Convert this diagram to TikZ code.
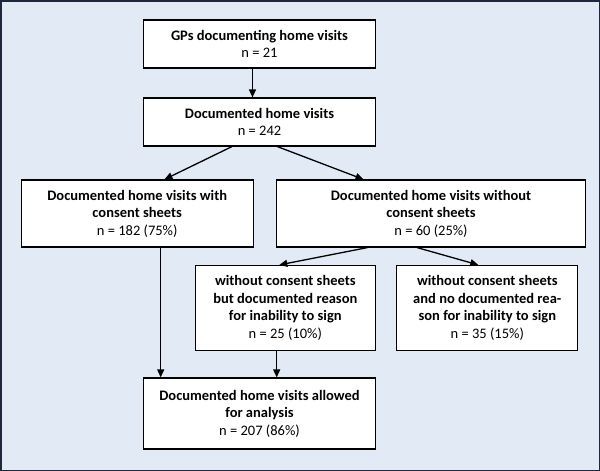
\documentclass[tikz,border=0pt]{standalone}
\usepackage{fontspec}
\setmainfont{Carlito}
\usetikzlibrary{arrows.meta}
\definecolor{bgblue}{RGB}{226,234,246}
\definecolor{frame}{RGB}{30,40,60}
\tikzset{
  box/.style={draw=black, line width=1.2pt, fill=white, align=center, inner sep=0pt,
    font=\fontsize{14.5}{17.5}\selectfont},
  arr/.style={line width=1.3pt, -{Triangle[length=8pt,width=7pt]}}
}
\begin{document}
\begin{tikzpicture}[x=1pt,y=-1pt]
\useasboundingbox (0,0) rectangle (600,471);
\draw[fill=bgblue, draw=frame, line width=1.5pt] (0.75,0.75) rectangle (599.25,470.25);
\node[box, minimum width=232pt, minimum height=48pt] (gp) at (259.5,44)
  {\textbf{GPs documenting home visits}\\n = 21};
\node[box, minimum width=232pt, minimum height=48pt] (dv) at (259.5,122)
  {\textbf{Documented home visits}\\n = 242};
\node[box, minimum width=232pt, minimum height=67pt] (lb) at (137.2,213.5)
  {\textbf{Documented home visits with}\\\textbf{consent sheets}\\n = 182 (75\%)};
\node[box, minimum width=309pt, minimum height=67pt] (rb) at (431,213.5)
  {\textbf{Documented home visits without}\\\textbf{consent sheets}\\n = 60 (25\%)};
\node[box, minimum width=180pt, minimum height=85pt] (mb) at (285.3,308)
  {\textbf{without consent sheets}\\\textbf{but documented reason}\\\textbf{for inability to sign}\\n = 25 (10\%)};
\node[box, minimum width=181pt, minimum height=85pt] (nb) at (487.3,308)
  {\textbf{without consent sheets}\\\textbf{and no documented rea-}\\\textbf{son for inability to sign}\\n = 35 (15\%)};
\node[box, minimum width=232pt, minimum height=71pt] (bb) at (259.5,413.5)
  {\textbf{Documented home visits allowed}\\\textbf{for analysis}\\n = 207 (86\%)};
\draw[arr] ([xshift=-7pt]gp.south) -- ([xshift=-7pt]gp.south |- dv.north);
\draw[arr] ([xshift=-27.6pt]dv.south) -- ([xshift=27.3pt]lb.north);
\draw[arr] ([xshift=17.9pt]dv.south) -- ([xshift=-67.5pt]rb.north);
\draw[arr] ([xshift=-63.6pt]rb.south) -- ([xshift=-6pt]mb.north);
\draw[arr] ([xshift=-13.9pt]rb.south) -- ([xshift=-9pt]nb.north);
\draw[arr] ([xshift=23.5pt]lb.south) -- ([xshift=23.5pt]lb.south |- bb.north);
\draw[arr] ([xshift=-8.6pt]mb.south) -- ([xshift=-8.6pt]mb.south |- bb.north);
\end{tikzpicture}
\end{document}
